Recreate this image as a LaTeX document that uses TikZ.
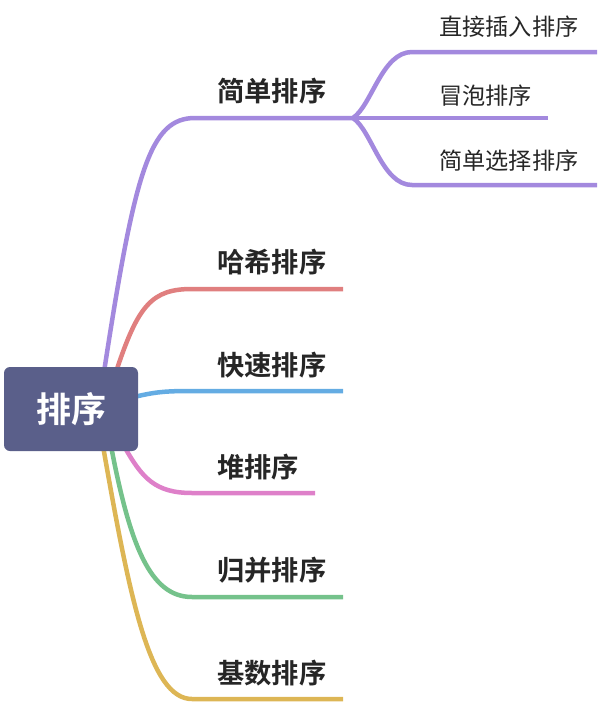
\documentclass[tikz,border=0pt]{standalone}
\usepackage{fontspec}
\newfontfamily\cjk{Noto Sans CJK SC}
\newfontfamily\cjkb{Noto Sans CJK SC Bold}
\definecolor{rootc}{HTML}{5A5F8A}
\definecolor{cpur}{HTML}{A389DE}
\definecolor{cred}{HTML}{E07F7F}
\definecolor{cblu}{HTML}{64ACE3}
\definecolor{cpink}{HTML}{DE80C9}
\definecolor{cgrn}{HTML}{75C28B}
\definecolor{cyel}{HTML}{DDB655}
\definecolor{txt}{HTML}{262626}
\tikzset{
  br/.style={line width=4.5pt, line cap=butt},
  lvone/.style={anchor=west, inner sep=0pt, text=txt, font=\cjkb\fontsize{27.3}{30}\selectfont},
  lvtwo/.style={anchor=west, inner sep=0pt, text=txt, font=\cjk\fontsize{23.2}{26}\selectfont},
}
\begin{document}
\begin{tikzpicture}[x=1pt,y=-1pt]
\useasboundingbox (0,0) rectangle (600,704);
% branch connectors (drawn first, under the root)
\coordinate (s1) at (104,372);
\coordinate (s2) at (116,372);
\coordinate (s3) at (134,397);
\coordinate (s4) at (124,446);
\coordinate (s5) at (111,446);
\coordinate (s6) at (103,446);
\coordinate (e1) at (353,118);
\coordinate (e2) at (343,289);
\coordinate (e3) at (343,391);
\coordinate (e4) at (315,493);
\coordinate (e5) at (343,597);
\coordinate (e6) at (343,699);
\coordinate (f1) at (597,52);
\coordinate (f2) at (548,118);
\coordinate (f3) at (597,185);

\draw[br, cpur] (s1) .. controls (135,170) and (150,118) .. (195,118) -- (e1);
\draw[br, cred] (s2) .. controls (138,305) and (152,289) .. (192,289) -- (e2);
\draw[br, cblu] (s3) .. controls (155,392) and (165,391) .. (192,391) -- (e3);
\draw[br, cpink] (s4) .. controls (142,478) and (155,493) .. (192,493) -- (e4);
\draw[br, cgrn] (s5) .. controls (130,545) and (150,597) .. (192,597) -- (e5);
\draw[br, cyel] (s6) .. controls (130,600) and (150,699) .. (192,699) -- (e6);

\draw[br, cpur] (e1) .. controls (372,105) and (382,52) .. (412,52) -- (f1);
\draw[br, cpur] (e1) -- (f2);
\draw[br, cpur] (e1) .. controls (372,131) and (382,185) .. (412,185) -- (f3);

% root
\node[fill=rootc, rounded corners=6pt, minimum width=134pt, minimum height=84pt,
      inner sep=0pt, text=white, font=\cjkb\fontsize{35}{40}\selectfont] (root) at (71,409) {排序};

% labels
\node[lvone] (n1) at (217,91) {简单排序};
\node[lvone] (n2) at (217,262) {哈希排序};
\node[lvone] (n3) at (217,365) {快速排序};
\node[lvone] (n4) at (217,467) {堆排序};
\node[lvone] (n5) at (217,570) {归并排序};
\node[lvone] (n6) at (217,673) {基数排序};

\node[lvtwo] (m1) at (439,27) {直接插入排序};
\node[lvtwo] (m2) at (439,96) {冒泡排序};
\node[lvtwo] (m3) at (439,161) {简单选择排序};
\end{tikzpicture}
\end{document}
